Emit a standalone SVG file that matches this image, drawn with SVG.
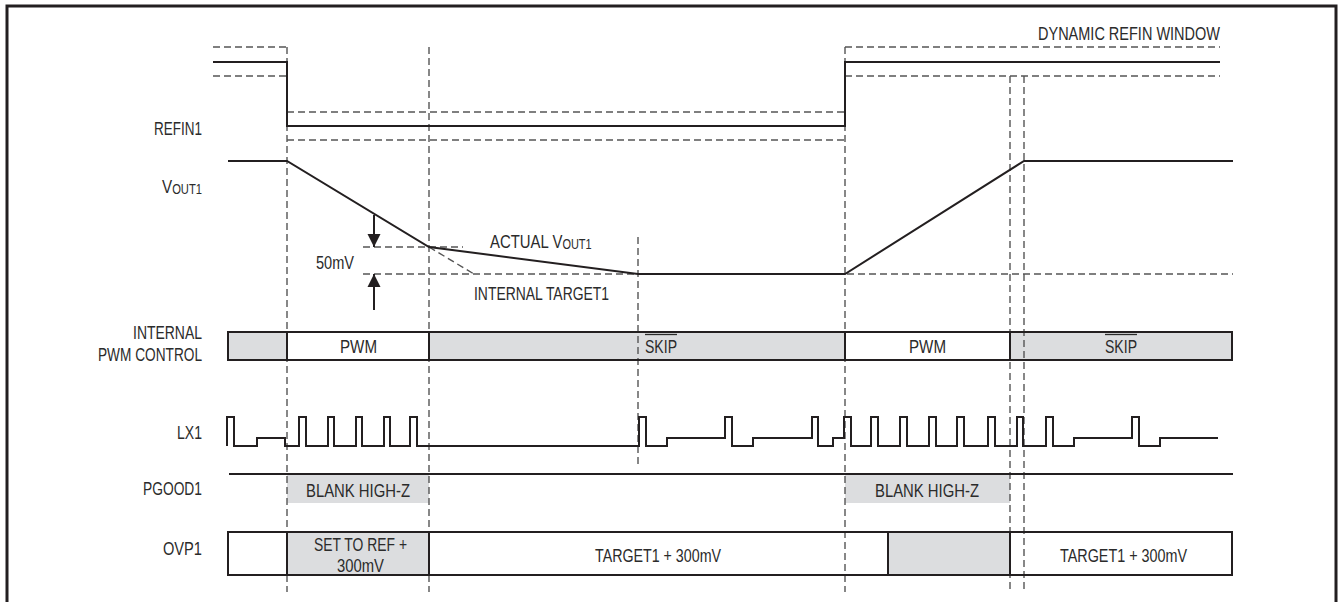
<svg xmlns="http://www.w3.org/2000/svg" width="1343" height="602" viewBox="0 0 1343 602">
<style>
.t{font-family:"Liberation Sans Narrow","Liberation Sans",Arial,sans-serif;font-size:19px;fill:#2b2b2b}
.s{font-size:14px}
.w{fill:none;stroke:#231f20;stroke-width:2;stroke-linejoin:miter}
.d{fill:none;stroke:#555;stroke-width:1.4;stroke-dasharray:7,4}
.g{fill:#dcdddf}
.box{fill:none;stroke:#231f20;stroke-width:2}
</style>
<defs>
<marker id="ah" viewBox="0 0 10 10" refX="10" refY="5" markerWidth="13" markerHeight="20" markerUnits="userSpaceOnUse" orient="auto">
<path d="M0,0 L10,5 L0,10 Z" fill="#231f20"/>
</marker>
</defs>
<rect width="1343" height="602" fill="#fff"/>
<rect x="7" y="6" width="1329" height="620" fill="none" stroke="#231f20" stroke-width="3"/>

<g id="fills">
<rect class="g" x="228" y="332" width="59" height="28"/>
<rect class="g" x="429" y="332" width="416" height="28"/>
<rect class="g" x="1010" y="332" width="222" height="28"/>
<rect class="g" x="287" y="475" width="142" height="28"/>
<rect class="g" x="845" y="475" width="165" height="28"/>
<rect class="g" x="287" y="532" width="142" height="43"/>
<rect class="g" x="888" y="532" width="122" height="43"/>
</g>

<g id="guides">
<line class="d" x1="287" y1="47" x2="287" y2="592"/>
<line class="d" x1="429" y1="47" x2="429" y2="592"/>
<line class="d" x1="638" y1="237" x2="638" y2="468"/>
<line class="d" x1="845" y1="47" x2="845" y2="592"/>
<line class="d" x1="1010" y1="76" x2="1010" y2="592"/>
<line class="d" x1="1024" y1="76" x2="1024" y2="592"/>
<line class="d" x1="213" y1="47" x2="287" y2="47"/>
<line class="d" x1="213" y1="76" x2="287" y2="76"/>
<line class="d" x1="287" y1="112" x2="845" y2="112"/>
<line class="d" x1="287" y1="140" x2="845" y2="140"/>
<line class="d" x1="845" y1="47" x2="1220" y2="47"/>
<line class="d" x1="845" y1="76" x2="1220" y2="76"/>
<line class="d" x1="363" y1="247" x2="463" y2="247"/>
<line class="d" x1="363" y1="274" x2="1233" y2="274"/>
<line class="d" x1="429" y1="247" x2="474" y2="274"/>
</g>

<g id="refin1">
<path class="w" d="M213,62 H287 V126 H845 V62 H1220"/>
</g>
<g id="vout1">
<path class="w" d="M228,161 H287 L429,247 L638,274 H845 L1024,161 H1233"/>
<line x1="374" y1="215" x2="374" y2="247" stroke="#231f20" stroke-width="2" marker-end="url(#ah)"/>
<line x1="374" y1="310" x2="374" y2="274" stroke="#231f20" stroke-width="2" marker-end="url(#ah)"/>
</g>
<g id="pwmcontrol">
<rect class="box" x="228" y="332" width="1004" height="28"/>
<line class="box" x1="287" y1="332" x2="287" y2="360"/>
<line class="box" x1="429" y1="332" x2="429" y2="360"/>
<line class="box" x1="845" y1="332" x2="845" y2="360"/>
<line class="box" x1="1010" y1="332" x2="1010" y2="360"/>
<line x1="645" y1="334.5" x2="677" y2="334.5" stroke="#2b2b2b" stroke-width="1.3"/>
<line x1="1105" y1="334.5" x2="1137" y2="334.5" stroke="#2b2b2b" stroke-width="1.3"/>
</g>
<g id="lx1">
<path class="w" d="M227,446 V417 H234 V446 H257 V438 H285 V446 H299 V417 H306 V446 H328 V417 H334 V446 H356 V417 H362 V446 H384 V417 H390 V446 H410 V417 H417 V446 H639 V417 H646 V446 H667 V438 H725 V417 H732 V446 H753 V438 H812 V417 H818 V446 H833 V438 H844 V417 H851 V446 H871 V417 H878 V446 H900 V417 H907 V446 H929 V417 H936 V446 H957 V417 H964 V446 H988 V417 H995 V446 H1017 V417 H1023 V446 H1046 V417 H1053 V446 H1074 V438 H1132 V417 H1139 V446 H1160 V438 H1218"/>
</g>
<g id="pgood1">
<line class="box" x1="229" y1="474" x2="1233" y2="474"/>
</g>
<g id="ovp1">
<rect class="box" x="228" y="532" width="1004" height="43"/>
<line class="box" x1="287" y1="532" x2="287" y2="575"/>
<line class="box" x1="429" y1="532" x2="429" y2="575"/>
<line class="box" x1="888" y1="532" x2="888" y2="575"/>
<line class="box" x1="1010" y1="532" x2="1010" y2="575"/>
</g>

<g id="labels">
<text class="t" x="1038" y="40" textLength="182" lengthAdjust="spacingAndGlyphs">DYNAMIC REFIN WINDOW</text>
<text class="t" x="154" y="135" textLength="48" lengthAdjust="spacingAndGlyphs">REFIN1</text>
<text class="t" transform="translate(162,193) scale(0.8,1)">V<tspan class="s" dy="1">OUT1</tspan></text>
<text class="t" transform="translate(490,248) scale(0.785,1)">ACTUAL V<tspan class="s" dy="1">OUT1</tspan></text>
<text class="t" x="474" y="300" textLength="135" lengthAdjust="spacingAndGlyphs">INTERNAL TARGET1</text>
<text class="t" x="316" y="269" textLength="38" lengthAdjust="spacingAndGlyphs">50mV</text>
<text class="t" x="133" y="339" textLength="69" lengthAdjust="spacingAndGlyphs">INTERNAL</text>
<text class="t" x="98" y="361" textLength="104" lengthAdjust="spacingAndGlyphs">PWM CONTROL</text>
<text class="t" x="340" y="353" textLength="37" lengthAdjust="spacingAndGlyphs">PWM</text>
<text class="t" x="645" y="353" textLength="32" lengthAdjust="spacingAndGlyphs">SKIP</text>
<text class="t" x="909" y="353" textLength="37" lengthAdjust="spacingAndGlyphs">PWM</text>
<text class="t" x="1105" y="353" textLength="32" lengthAdjust="spacingAndGlyphs">SKIP</text>
<text class="t" x="177" y="439" textLength="25" lengthAdjust="spacingAndGlyphs">LX1</text>
<text class="t" x="143" y="495" textLength="59" lengthAdjust="spacingAndGlyphs">PGOOD1</text>
<text class="t" x="306" y="497" textLength="104" lengthAdjust="spacingAndGlyphs">BLANK HIGH-Z</text>
<text class="t" x="875" y="497" textLength="104" lengthAdjust="spacingAndGlyphs">BLANK HIGH-Z</text>
<text class="t" x="163" y="555" textLength="39" lengthAdjust="spacingAndGlyphs">OVP1</text>
<text class="t" x="314" y="551" textLength="93" lengthAdjust="spacingAndGlyphs">SET TO REF +</text>
<text class="t" x="337" y="572" textLength="47" lengthAdjust="spacingAndGlyphs">300mV</text>
<text class="t" x="595" y="562" textLength="126" lengthAdjust="spacingAndGlyphs">TARGET1 + 300mV</text>
<text class="t" x="1060" y="562" textLength="127" lengthAdjust="spacingAndGlyphs">TARGET1 + 300mV</text>
</g>
</svg>
